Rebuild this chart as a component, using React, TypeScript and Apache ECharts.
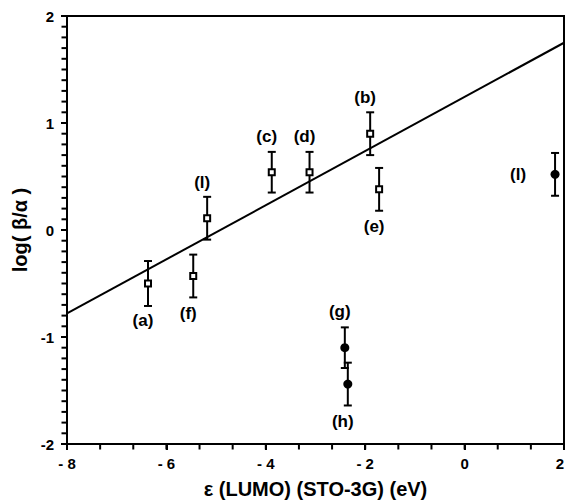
import React, { useEffect, useRef } from "react";
import * as echarts from "echarts";

const labels = ["(a)", "(f)", "(l)", "(c)", "(d)", "(b)", "(e)", "(g)", "(h)", "(l)"];
const xVals = [-6.37, -5.46, -5.18, -3.88, -3.12, -1.9, -1.72, -2.41, -2.35, 1.82];
const yVals = [-0.5, -0.43, 0.11, 0.54, 0.54, 0.9, 0.38, -1.1, -1.44, 0.52];
const errVals = [0.21, 0.2, 0.2, 0.19, 0.19, 0.2, 0.2, 0.19, 0.2, 0.2];
const filled = [false, false, false, false, false, false, false, true, true, true];
const labelPos = ["bottom", "bottom", "top", "top", "top", "top", "bottom", "top", "bottom", "left"];
const fitX = [-8, 2];
const fitY = [-0.78, 1.75];

const X_MIN = -8, X_MAX = 2, Y_MIN = -2, Y_MAX = 2;
const xMinorTicks: number[] = [];
for (let k = 0; k <= 15; k++) xMinorTicks.push(X_MIN + (k * 2) / 3);
const yMinorTicks: number[] = [];
for (let k = 0; k <= 40; k++) yMinorTicks.push(Y_MIN + k / 10);

const FONT = "Liberation Sans, Arial, Helvetica, sans-serif";

export default function App() {
  const ref = useRef<HTMLDivElement>(null);
  useEffect(() => {
    document.body.style.margin = "0";
    const chart = echarts.init(ref.current!, null, { renderer: "svg" });
    const pts = xVals.map((x, i) => [x, yVals[i], errVals[i], i]);
    const squares = pts.filter((p) => !filled[p[3]]);
    const circles = pts.filter((p) => filled[p[3]]);
    chart.setOption({
      animation: false,
      backgroundColor: "#fff",
      grid: {
        left: 67, right: 2, top: 16, bottom: 59,
        containLabel: false, outerBoundsMode: "none",
        show: true, borderColor: "#000", borderWidth: 2, backgroundColor: "transparent",
      },
      xAxis: {
        type: "value",
        min: X_MIN,
        max: X_MAX,
        interval: 2,
        name: "ε (LUMO) (STO-3G) (eV)",
        nameLocation: "middle",
        nameGap: 35,
        nameTextStyle: { fontFamily: FONT, fontSize: 20, fontWeight: "bold", color: "#000" },
        axisLine: { onZero: false, lineStyle: { color: "#000", width: 2 } },
        axisTick: { show: true, inside: false, length: 6, lineStyle: { color: "#000", width: 2 } },
        splitLine: { show: false },
        axisLabel: {
          margin: 12,
          fontFamily: FONT,
          fontSize: 15,
          fontWeight: "bold",
          color: "#000",
          alignMaxLabel: "right",
          formatter: (v: number) => (v < 0 ? "- " + Math.abs(v) : String(v)),
        },
      },
      yAxis: {
        type: "value",
        min: Y_MIN,
        max: Y_MAX,
        interval: 1,
        name: "log( β/α )",
        nameLocation: "middle",
        nameGap: 32,
        nameRotate: 90,
        nameTextStyle: { fontFamily: FONT, fontSize: 20, fontWeight: "bold", color: "#000" },
        axisLine: { onZero: false, lineStyle: { color: "#000", width: 2 } },
        axisTick: { show: true, inside: false, length: 6, lineStyle: { color: "#000", width: 2 } },
        splitLine: { show: false },
        axisLabel: {
          margin: 13,
          fontFamily: FONT,
          fontSize: 15,
          fontWeight: "bold",
          color: "#000",
          formatter: (v: number) => (v < 0 ? "-" + Math.abs(v) : String(v)),
        },
      },
      series: [
        {
          type: "scatter",
          silent: true,
          clip: false,
          data: xMinorTicks.map((v) => [v, Y_MIN]),
          symbol: "rect",
          symbolSize: [2, 5],
          symbolOffset: [0, 3],
          itemStyle: { color: "#000", opacity: 1 },
          z: 5,
        },
        {
          type: "scatter",
          silent: true,
          clip: false,
          data: yMinorTicks.map((v) => [X_MIN, v]),
          symbol: "rect",
          symbolSize: [5, 2],
          symbolOffset: [-3, 0],
          itemStyle: { color: "#000", opacity: 1 },
          z: 5,
        },
        {
          type: "line",
          data: fitX.map((x, i) => [x, fitY[i]]),
          symbol: "none",
          lineStyle: { color: "#000", width: 2 },
          z: 1,
        },
        {
          type: "custom",
          data: pts,
          z: 2,
          renderItem: (params: any, api: any) => {
            const x = api.value(0);
            const y = api.value(1);
            const e = api.value(2);
            const top = api.coord([x, y + e]);
            const bot = api.coord([x, y - e]);
            const cap = 4;
            return {
              type: "group",
              children: [
                { type: "line", shape: { x1: top[0], y1: top[1], x2: bot[0], y2: bot[1] }, style: { stroke: "#000", lineWidth: 2 } },
                { type: "line", shape: { x1: top[0] - cap, y1: top[1], x2: top[0] + cap, y2: top[1] }, style: { stroke: "#000", lineWidth: 2 } },
                { type: "line", shape: { x1: bot[0] - cap, y1: bot[1], x2: bot[0] + cap, y2: bot[1] }, style: { stroke: "#000", lineWidth: 2 } },
              ],
            };
          },
        },
        {
          type: "scatter",
          data: squares,
          symbol: "rect",
          symbolSize: 6,
          itemStyle: { color: "#fff", borderColor: "#000", borderWidth: 2, opacity: 1 },
          z: 3,
        },
        {
          type: "scatter",
          data: circles,
          symbol: "circle",
          symbolSize: 9,
          itemStyle: { color: "#000", opacity: 1 },
          z: 3,
        },
        {
          type: "custom",
          data: pts,
          z: 4,
          renderItem: (params: any, api: any) => {
            const i = api.value(3);
            const c = api.coord([api.value(0), api.value(1)]);
            const pos = labelPos[i];
            let dx = -5;
            let dy = 0;
            if (pos === "top") dy = -36;
            else if (pos === "bottom") dy = 37;
            else if (pos === "left") dx = -37;
            return {
              type: "text",
              x: c[0] + dx,
              y: c[1] + dy,
              style: {
                text: labels[i],
                fill: "#000",
                font: "bold 17px " + FONT,
                align: "center",
                verticalAlign: "middle",
              },
            };
          },
        },
      ],
    });
    return () => chart.dispose();
  }, []);
  return <div ref={ref} style={{ width: 566, height: 503 }} />;
}
